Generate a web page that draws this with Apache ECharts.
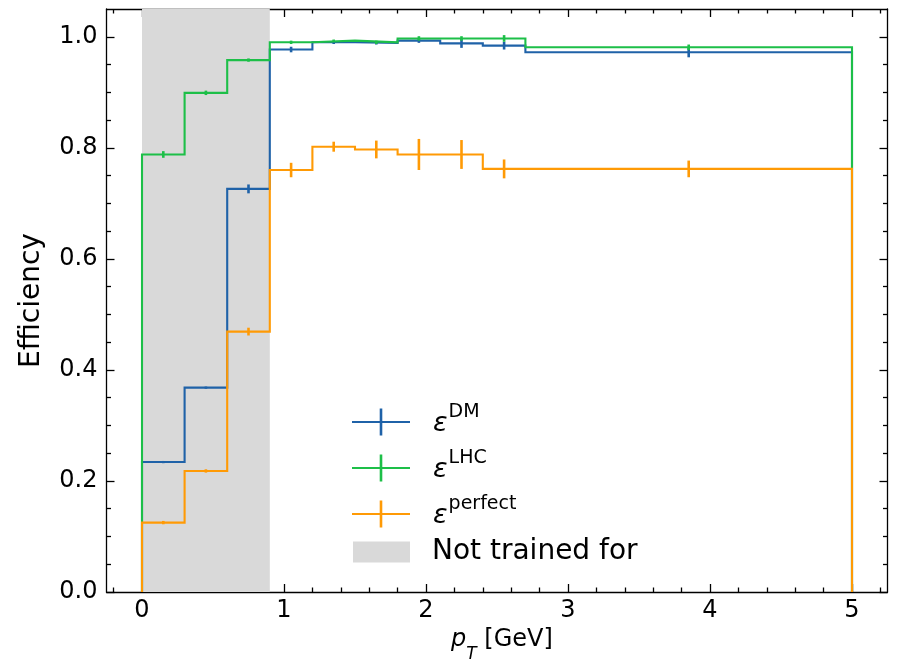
<!DOCTYPE html>
<html>
<head>
<meta charset="utf-8">
<script src="https://cdn.jsdelivr.net/npm/echarts@6/dist/echarts.min.js"></script>
<style>
html,body{margin:0;padding:0;background:#fff;}
#chart{width:902px;height:659px;}
</style>
</head>
<body>
<div id="chart"></div>
<script>
// ---- data ----
var binEdges = [0, 0.3, 0.6, 0.9, 1.2, 1.5, 1.8, 2.1, 2.4, 2.7, 5.0];
var binCenters = [0.15, 0.45, 0.75, 1.05, 1.35, 1.65, 1.95, 2.25, 2.55, 3.85];
var effDM = [0.234, 0.368, 0.726, 0.977, 0.990, 0.989, 0.993, 0.988, 0.984, 0.972];
var errDM = [0.002, 0.002, 0.008, 0.005, 0.003, 0.003, 0.004, 0.008, 0.007, 0.009];
var effLHC = [0.788, 0.899, 0.958, 0.990, 0.993, 0.990, 0.997, 0.997, 0.997, 0.981];
var errLHC = [0.006, 0.004, 0.003, 0.003, 0.002, 0.003, 0.004, 0.004, 0.006, 0.005];
var effPerfect = [0.125, 0.218, 0.469, 0.760, 0.802, 0.797, 0.788, 0.788, 0.762, 0.762];
var errPerfect = [0.003, 0.003, 0.007, 0.013, 0.009, 0.016, 0.028, 0.026, 0.017, 0.015];
var shadeRange = [0, 0.9];
var seriesNames = ['DM', 'LHC', 'perfect'];
var shadeName = 'Not trained for';
var xTicks = [0, 1, 2, 3, 4, 5];
var xMinorTicks = [-0.2, 0.2, 0.4, 0.6, 0.8, 1.2, 1.4, 1.6, 1.8, 2.2, 2.4, 2.6, 2.8, 3.2, 3.4, 3.6, 3.8, 4.2, 4.4, 4.6, 4.8, 5.2];
var yTicks = [0, 0.2, 0.4, 0.6, 0.8, 1.0];
var yMinorTicks = [0.05, 0.1, 0.15, 0.25, 0.3, 0.35, 0.45, 0.5, 0.55, 0.65, 0.7, 0.75, 0.85, 0.9, 0.95];

// ---- styling ----
var colors = ['#1f62a8', '#1dbf48', '#ff9a05'];
var FONT = 'DejaVu Sans';
var TICKFONT = 24;
var XMIN = -0.25, XMAX = 5.25, YMIN = 0, YMAX = 1.05;

function stepPoints(vals) {
  var pts = [[binEdges[0], 0]];
  for (var i = 0; i < vals.length; i++) {
    pts.push([binEdges[i], vals[i]]);
    pts.push([binEdges[i + 1], vals[i]]);
  }
  pts.push([binEdges[binEdges.length - 1], 0]);
  return pts;
}
function errData(vals, errs) {
  return binCenters.map(function (c, i) { return [c, vals[i], errs[i]]; });
}

var allVals = [effDM, effLHC, effPerfect];
var allErrs = [errDM, errLHC, errPerfect];

var series = [];
series.push({
  name: shadeName,
  type: 'custom',
  xAxisIndex: 0, yAxisIndex: 0,
  z: 1,
  itemStyle: { color: '#d9d9d9' },
  data: [shadeRange],
  renderItem: function (params, api) {
    var a = api.coord([api.value(0), 0]);
    var b = api.coord([api.value(1), 0]);
    var cs = params.coordSys;
    return { type: 'rect', shape: { x: a[0], y: cs.y, width: b[0] - a[0], height: cs.height },
      style: { fill: '#d9d9d9' } };
  }
});
for (var k = 0; k < 3; k++) {
  (function (k) {
    series.push({
      name: seriesNames[k] + ' step',
      type: 'line',
      xAxisIndex: 0, yAxisIndex: 0,
      z: 3 + k * 2,
      data: stepPoints(allVals[k]),
      showSymbol: false,
      symbol: 'none',
      lineStyle: { color: colors[k], width: 2.1, join: 'miter' },
      itemStyle: { color: colors[k] },
      animation: false
    });
    series.push({
      name: seriesNames[k],
      type: 'custom',
      xAxisIndex: 0, yAxisIndex: 0,
      z: 4 + k * 2,
      itemStyle: { color: colors[k] },
      data: errData(allVals[k], allErrs[k]),
      renderItem: function (params, api) {
        var c = api.value(0), v = api.value(1), e = api.value(2);
        var p1 = api.coord([c, v - e]);
        var p2 = api.coord([c, v + e]);
        return { type: 'line', shape: { x1: p1[0], y1: p1[1], x2: p2[0], y2: p2[1] },
          style: { stroke: colors[k], lineWidth: 2.6 } };
      }
    });
  })(k);
}

function xAxisDef(pos, ticks, len, showLine, labels) {
  return {
    type: 'value', min: XMIN, max: XMAX, position: pos,
    axisLine: { show: showLine, onZero: false, lineStyle: { color: '#000', width: 1.3 } },
    axisTick: { show: true, inside: true, length: len, customValues: ticks, lineStyle: { color: '#000', width: 1.3 } },
    axisLabel: labels ? { show: true, customValues: ticks, color: '#000', fontSize: TICKFONT, fontFamily: FONT, margin: 7 } : { show: false },
    splitLine: { show: false }
  };
}
function yAxisDef(pos, ticks, len, showLine, labels) {
  return {
    type: 'value', min: YMIN, max: YMAX, position: pos,
    axisLine: { show: showLine, onZero: false, lineStyle: { color: '#000', width: 1.3 } },
    axisTick: { show: true, inside: true, length: len, customValues: ticks, lineStyle: { color: '#000', width: 1.3 } },
    axisLabel: labels ? { show: true, customValues: ticks, color: '#000', fontSize: TICKFONT, fontFamily: FONT, margin: 9,
      formatter: function (v) { return v.toFixed(1); } } : { show: false },
    splitLine: { show: false }
  };
}

var xAxes = [
  xAxisDef('bottom', xTicks, 8, true, true),
  xAxisDef('bottom', xMinorTicks, 4.5, false, false),
  xAxisDef('top', xTicks, 8, true, false),
  xAxisDef('top', xMinorTicks, 4.5, false, false)
];
xAxes[0].name = '{i|p}{sub|T}{n| [GeV]}';
xAxes[0].nameLocation = 'middle';
xAxes[0].nameGap = 26;
xAxes[0].nameTextStyle = {
  color: '#000', fontFamily: FONT, fontSize: 24, padding: [0, 0, 0, 10],
  rich: {
    i: { fontFamily: FONT, fontSize: 24, fontStyle: 'italic', color: '#000', verticalAlign: 'top', lineHeight: 30 },
    sub: { fontFamily: FONT, fontSize: 17, fontStyle: 'italic', color: '#000', verticalAlign: 'bottom', lineHeight: 30, padding: [0, 0, -5, 0] },
    n: { fontFamily: FONT, fontSize: 24, color: '#000', verticalAlign: 'top', lineHeight: 30 }
  }
};

var yAxes = [
  yAxisDef('left', yTicks, 8, true, true),
  yAxisDef('left', yMinorTicks, 4.5, false, false),
  yAxisDef('right', yTicks, 8, true, false),
  yAxisDef('right', yMinorTicks, 4.5, false, false)
];
yAxes[0].name = 'Efficiency';
yAxes[0].nameLocation = 'middle';
yAxes[0].nameGap = 61;
yAxes[0].nameTextStyle = { color: '#000', fontFamily: FONT, fontSize: 28 };

var crossIcon = 'path://M0,12.4H58V14.6H0Z M27.7,0H30.3V27H27.7Z';

var option = {
  animation: false,
  backgroundColor: '#fff',
  grid: { left: 106.5, right: 14.5, top: 9, bottom: 67, containLabel: false, outerBoundsMode: 'none' },
  xAxis: xAxes,
  yAxis: yAxes,
  legend: [
    {
      data: seriesNames.map(function (n) { return { name: n, icon: crossIcon }; }),
      orient: 'vertical',
      left: 347, top: 398,
      itemWidth: 58, itemHeight: 27, itemGap: 12,
      selectedMode: false,
      formatter: function (n) { return '{e|ε}{s|' + n + '}'; },
      textStyle: {
        padding: [0, 0, 0, 18],
        rich: {
          e: { fontFamily: FONT, fontSize: 27, fontStyle: 'italic', color: '#000', lineHeight: 30, verticalAlign: 'bottom' },
          s: { fontFamily: FONT, fontSize: 19, color: '#000', lineHeight: 30, verticalAlign: 'top', padding: [-4, 0, 0, 1] }
        }
      }
    },
    {
      data: [{ name: shadeName, icon: 'rect' }],
      orient: 'vertical',
      left: 348, top: 533,
      itemWidth: 57, itemHeight: 21,
      selectedMode: false,
      textStyle: { fontFamily: FONT, fontSize: 28, color: '#000', padding: [0, 0, 0, 17] }
    }
  ],
  series: series
};

var chart = echarts.init(document.getElementById('chart'), null, { renderer: 'canvas' });
chart.setOption(option);
</script>
</body>
</html>
